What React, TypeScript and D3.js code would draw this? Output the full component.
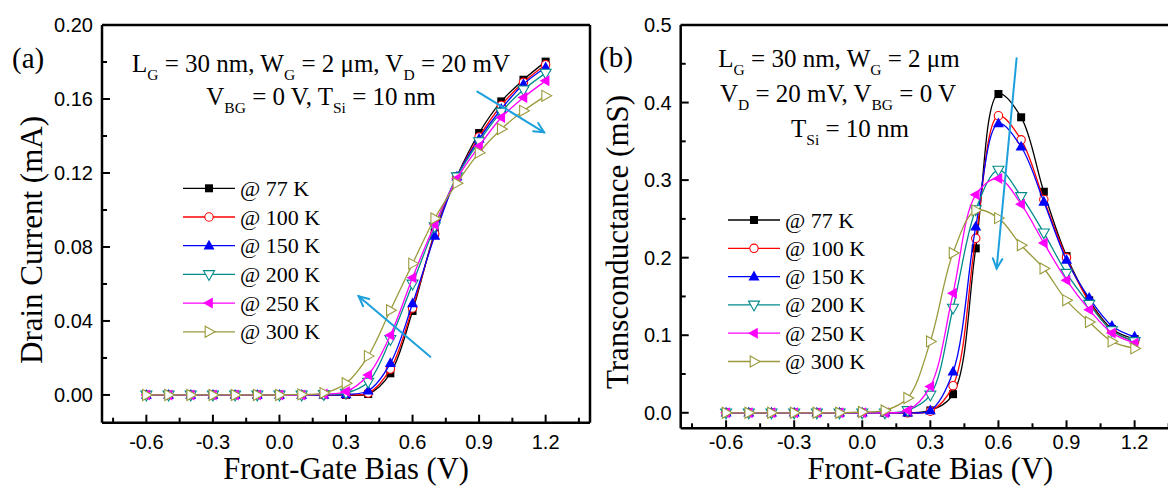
import React from "react";
import * as d3 from "d3";

const VG = [-0.6, -0.5, -0.4, -0.3, -0.2, -0.1, 0.0, 0.1, 0.2, 0.3, 0.4, 0.5, 0.6, 0.7, 0.8, 0.9, 1.0, 1.1, 1.2];
const LEGEND_LABELS = ["@ 77 K", "@ 100 K", "@ 150 K", "@ 200 K", "@ 250 K", "@ 300 K"];

// Panel (a): drain current (mA)
const ID_77K = [0, 0, 0, 0, 0, 0, 0, 0, 0, 0, 0.0005, 0.0117, 0.0454, 0.0879, 0.1182, 0.1416, 0.1587, 0.1704, 0.1802];
const ID_100K = [0, 0, 0, 0, 0, 0, 0, 0, 0, 0.0002, 0.001, 0.014, 0.047, 0.087, 0.118, 0.1395, 0.1565, 0.169, 0.1785];
const ID_150K = [0, 0, 0, 0, 0, 0, 0, 0, 0, 0.0003, 0.0023, 0.0171, 0.0494, 0.086, 0.118, 0.1384, 0.1546, 0.168, 0.177];
const ID_200K = [0, 0, 0, 0, 0, 0, 0, 0, 0.0003, 0.001, 0.007, 0.03, 0.06, 0.091, 0.118, 0.137, 0.153, 0.165, 0.174];
const ID_250K = [0, 0, 0, 0, 0, 0, 0, 0, 0.0005, 0.0018, 0.0108, 0.0323, 0.0634, 0.092, 0.117, 0.1344, 0.15, 0.1608, 0.1698];
const ID_300K = [0, 0, 0, 0, 0, 0, 0, 0.0003, 0.001, 0.0063, 0.021, 0.0458, 0.071, 0.0954, 0.1145, 0.131, 0.1438, 0.1536, 0.1617];

// Panel (b): transconductance (mS)
const GM_77K = [0, 0, 0, 0, 0, 0, 0, 0, 0, 0.003, 0.024, 0.212, 0.411, 0.381, 0.285, 0.202, 0.145, 0.108, 0.095];
const GM_100K = [0, 0, 0, 0, 0, 0, 0, 0, 0, 0.002, 0.035, 0.225, 0.383, 0.352, 0.275, 0.2, 0.143, 0.106, 0.092];
const GM_150K = [0, 0, 0, 0, 0, 0, 0, 0, 0, 0.003, 0.053, 0.24, 0.373, 0.343, 0.272, 0.197, 0.148, 0.112, 0.098];
const GM_200K = [0, 0, 0, 0, 0, 0, 0, 0, 0.003, 0.023, 0.135, 0.262, 0.313, 0.279, 0.232, 0.18, 0.14, 0.106, 0.092];
const GM_250K = [0, 0, 0, 0, 0, 0, 0, 0, 0.003, 0.034, 0.154, 0.281, 0.302, 0.269, 0.219, 0.171, 0.133, 0.103, 0.09];
const GM_300K = [0, 0, 0, 0, 0, 0, 0.001, 0.003, 0.019, 0.092, 0.206, 0.261, 0.251, 0.216, 0.186, 0.145, 0.117, 0.092, 0.083];

const X_TICKS = [-0.6, -0.3, 0.0, 0.3, 0.6, 0.9, 1.2];
const X_TICK_LABELS = ["-0.6", "-0.3", "0.0", "0.3", "0.6", "0.9", "1.2"];
const X_MINOR = [-0.75, -0.45, -0.15, 0.15, 0.45, 0.75, 1.05, 1.35];
const YA_TICKS = [0, 0.04, 0.08, 0.12, 0.16, 0.2];
const YA_TICK_LABELS = ["0.00", "0.04", "0.08", "0.12", "0.16", "0.20"];
const YA_MINOR = [0.02, 0.06, 0.1, 0.14, 0.18];
const YB_TICKS = [0, 0.1, 0.2, 0.3, 0.4, 0.5];
const YB_TICK_LABELS = ["0.0", "0.1", "0.2", "0.3", "0.4", "0.5"];
const YB_MINOR = [0.05, 0.15, 0.25, 0.35, 0.45];

// arrows in data coordinates [x1, y1, x2, y2]
const ARROWS_A = [[0.68, 0.0206, 0.357, 0.0534], [0.892, 0.164, 1.193, 0.142]];
const ARROWS_B = [[0.68, 0.457, 0.592, 0.186]];

const COLORS = ["#000000", "#ff0000", "#0000ff", "#008b8b", "#ff00ff", "#9a9a3c"];
const MARKERS = ["square", "circle", "triUp", "triDown", "triLeft", "triRight"];

const SERIF = "'Liberation Serif', 'Times New Roman', serif";
const SANS = "'Liberation Sans', Arial, sans-serif";
const ARROW_COLOR = "#1ea0dc";

function Marker({ type, color, x, y }: { type: string; color: string; x: number; y: number }) {
  const t = `translate(${x},${y})`;
  switch (type) {
    case "square":
      return <rect x={x - 4} y={y - 4} width={8} height={8} fill={color} />;
    case "circle":
      return <circle cx={x} cy={y} r={4.2} fill="#fff" stroke={color} strokeWidth={1.1} />;
    case "triUp":
      return <polygon transform={t} points="0,-6 5.5,3.8 -5.5,3.8" fill={color} />;
    case "triDown":
      return <polygon transform={t} points="0,6 5.5,-3.8 -5.5,-3.8" fill="#fff" stroke={color} strokeWidth={1.1} />;
    case "triLeft":
      return <polygon transform={t} points="-6,0 3.8,-5.5 3.8,5.5" fill={color} />;
    default:
      return <polygon transform={t} points="6,0 -3.8,-5.5 -3.8,5.5" fill="#fff" stroke={color} strokeWidth={1.1} />;
  }
}

type Seg = { t: string; sub?: boolean };

function RichText({ x, y, segs, size, anchor = "middle" }: { x: number; y: number; segs: Seg[]; size: number; anchor?: string }) {
  let prevSub = false;
  const subSize = size * 0.62;
  const shift = size * 0.32;
  return (
    <text x={x} y={y} textAnchor={anchor} fontFamily={SERIF} fontSize={size} fill="#000">
      {segs.map((s, i) => {
        let dy = 0;
        if (s.sub && !prevSub) dy = shift;
        if (!s.sub && prevSub) dy = -shift;
        prevSub = !!s.sub;
        return (
          <tspan key={i} dy={dy} fontSize={s.sub ? subSize : size}>
            {s.t}
          </tspan>
        );
      })}
    </text>
  );
}

function Arrow({ x1, y1, x2, y2 }: { x1: number; y1: number; x2: number; y2: number }) {
  const ang = Math.atan2(y2 - y1, x2 - x1);
  const L = 11;
  const a1 = ang + Math.PI - 0.45;
  const a2 = ang + Math.PI + 0.45;
  const p1 = [x2 + L * Math.cos(a1), y2 + L * Math.sin(a1)];
  const p2 = [x2 + L * Math.cos(a2), y2 + L * Math.sin(a2)];
  return (
    <g stroke={ARROW_COLOR} strokeWidth={2} fill="none" strokeLinecap="round">
      <line x1={x1} y1={y1} x2={x2} y2={y2} />
      <path d={`M${p1[0]},${p1[1]} L${x2},${y2} L${p2[0]},${p2[1]}`} />
    </g>
  );
}

type PanelProps = {
  left: number; right: number; top: number; bottom: number;
  yDomain: [number, number];
  yTicks: number[]; yTickLabels: string[]; yMinor: number[];
  series: number[][];
  arrows: number[][];
  legendX: number; legendY: number; legendStep: number;
  yTitle: string; yTitleX: number; yTitleY: number;
  label: string; labelX: number; labelY: number;
  annot: { segs: Seg[]; x: number; y: number }[];
  showRightFrame: boolean;
};

function Panel(p: PanelProps) {
  const x = d3.scaleLinear().domain([-0.8, 1.4]).range([p.left, p.right]);
  const y = d3.scaleLinear().domain(p.yDomain).range([p.bottom, p.top]);
  const line = d3
    .line<[number, number]>()
    .x((d) => x(d[0]))
    .y((d) => y(d[1]))
    .curve(d3.curveCatmullRom.alpha(0.5));
  return (
    <g>
      {p.series.map((vals, si) => {
        const pts = VG.map((v, i) => [v, vals[i]] as [number, number]);
        return (
          <g key={si}>
            <path d={line(pts) || ""} fill="none" stroke={COLORS[si]} strokeWidth={1.3} />
            {pts.map((d, i) => (
              <Marker key={i} type={MARKERS[si]} color={COLORS[si]} x={x(d[0])} y={y(d[1])} />
            ))}
          </g>
        );
      })}
      {p.arrows.map((a, i) => (
        <Arrow key={i} x1={x(a[0])} y1={y(a[1])} x2={x(a[2])} y2={y(a[3])} />
      ))}
      <g stroke="#000" strokeWidth={2.5} fill="none">
        <line x1={p.left} y1={p.top} x2={p.left} y2={p.bottom} />
        <line x1={p.left} y1={p.bottom} x2={p.right} y2={p.bottom} />
        <line x1={p.left} y1={p.top} x2={p.right} y2={p.top} />
        {p.showRightFrame && <line x1={p.right} y1={p.top} x2={p.right} y2={p.bottom} />}
      </g>
      <g stroke="#000" strokeWidth={2}>
        {X_TICKS.map((t, i) => (
          <line key={"xm" + i} x1={x(t)} x2={x(t)} y1={p.bottom} y2={p.bottom - 8} />
        ))}
        {X_MINOR.map((t, i) => (
          <line key={"xn" + i} x1={x(t)} x2={x(t)} y1={p.bottom} y2={p.bottom - 5} />
        ))}
        {p.yTicks.map((t, i) => (
          <line key={"ym" + i} x1={p.left} x2={p.left + 8} y1={y(t)} y2={y(t)} />
        ))}
        {p.yMinor.map((t, i) => (
          <line key={"yn" + i} x1={p.left} x2={p.left + 5} y1={y(t)} y2={y(t)} />
        ))}
      </g>
      {X_TICKS.map((t, i) => (
        <text key={"xl" + i} x={x(t)} y={449} textAnchor="middle" fontFamily={SANS} fontSize={20} fill="#000">
          {X_TICK_LABELS[i]}
        </text>
      ))}
      {p.yTicks.map((t, i) => (
        <text key={"yl" + i} x={p.left - 9} y={y(t) + 7} textAnchor="end" fontFamily={SANS} fontSize={20} fill="#000">
          {p.yTickLabels[i]}
        </text>
      ))}
      <text x={x(0.3)} y={479} textAnchor="middle" fontFamily={SERIF} fontSize={30.5} fill="#000">
        Front-Gate Bias (V)
      </text>
      <text transform={`translate(${p.yTitleX},${p.yTitleY}) rotate(-90)`} textAnchor="middle" fontFamily={SERIF} fontSize={31} fill="#000">
        {p.yTitle}
      </text>
      <text x={p.labelX} y={p.labelY} fontFamily={SERIF} fontSize={29} fill="#000">
        {p.label}
      </text>
      {p.annot.map((a, i) => (
        <RichText key={i} x={a.x} y={a.y} segs={a.segs} size={25} />
      ))}
      {LEGEND_LABELS.map((lab, i) => {
        const ly = p.legendY + i * p.legendStep;
        return (
          <g key={"lg" + i}>
            <line x1={p.legendX} x2={p.legendX + 52} y1={ly} y2={ly} stroke={COLORS[i]} strokeWidth={1.3} />
            <Marker type={MARKERS[i]} color={COLORS[i]} x={p.legendX + 26} y={ly} />
            <text x={p.legendX + 57} y={ly + 7.5} fontFamily={SERIF} fontSize={22} fill="#000">
              {lab}
            </text>
          </g>
        );
      })}
    </g>
  );
}

export default function App() {
  return (
    <svg width={1168} height={486} style={{ position: "absolute", left: 0, top: 0, background: "#fff" }}>
      <rect x={0} y={0} width={1168} height={486} fill="#fff" />
      <Panel
        left={102} right={590} top={25} bottom={422.7}
        yDomain={[-0.015, 0.2]}
        yTicks={YA_TICKS} yTickLabels={YA_TICK_LABELS} yMinor={YA_MINOR}
        series={[ID_77K, ID_100K, ID_150K, ID_200K, ID_250K, ID_300K]}
        arrows={ARROWS_A}
        legendX={183} legendY={188.3} legendStep={28.7}
        yTitle="Drain Current (mA)" yTitleX={42} yTitleY={240}
        label="(a)" labelX={12} labelY={68}
        annot={[
          { x: 321, y: 72, segs: [{ t: "L" }, { t: "G", sub: true }, { t: " = 30 nm, W" }, { t: "G", sub: true }, { t: " = 2 μm, V" }, { t: "D", sub: true }, { t: " = 20 mV" }] },
          { x: 321, y: 105, segs: [{ t: "V" }, { t: "BG", sub: true }, { t: " = 0 V, T" }, { t: "Si", sub: true }, { t: " = 10 nm" }] },
        ]}
        showRightFrame={true}
      />
      <Panel
        left={680.7} right={1180} top={25} bottom={428.3}
        yDomain={[-0.02, 0.5]}
        yTicks={YB_TICKS} yTickLabels={YB_TICK_LABELS} yMinor={YB_MINOR}
        series={[GM_77K, GM_100K, GM_150K, GM_200K, GM_250K, GM_300K]}
        arrows={ARROWS_B}
        legendX={728} legendY={220} legendStep={28.3}
        yTitle="Transconductance (mS)" yTitleX={628} yTitleY={242}
        label="(b)" labelX={599} labelY={67}
        annot={[
          { x: 839, y: 67, segs: [{ t: "L" }, { t: "G", sub: true }, { t: " = 30 nm, W" }, { t: "G", sub: true }, { t: " = 2 μm" }] },
          { x: 838, y: 102, segs: [{ t: "V" }, { t: "D", sub: true }, { t: " = 20 mV, V" }, { t: "BG", sub: true }, { t: " = 0 V" }] },
          { x: 850, y: 137, segs: [{ t: "T" }, { t: "Si", sub: true }, { t: " = 10 nm" }] },
        ]}
        showRightFrame={false}
      />
    </svg>
  );
}
